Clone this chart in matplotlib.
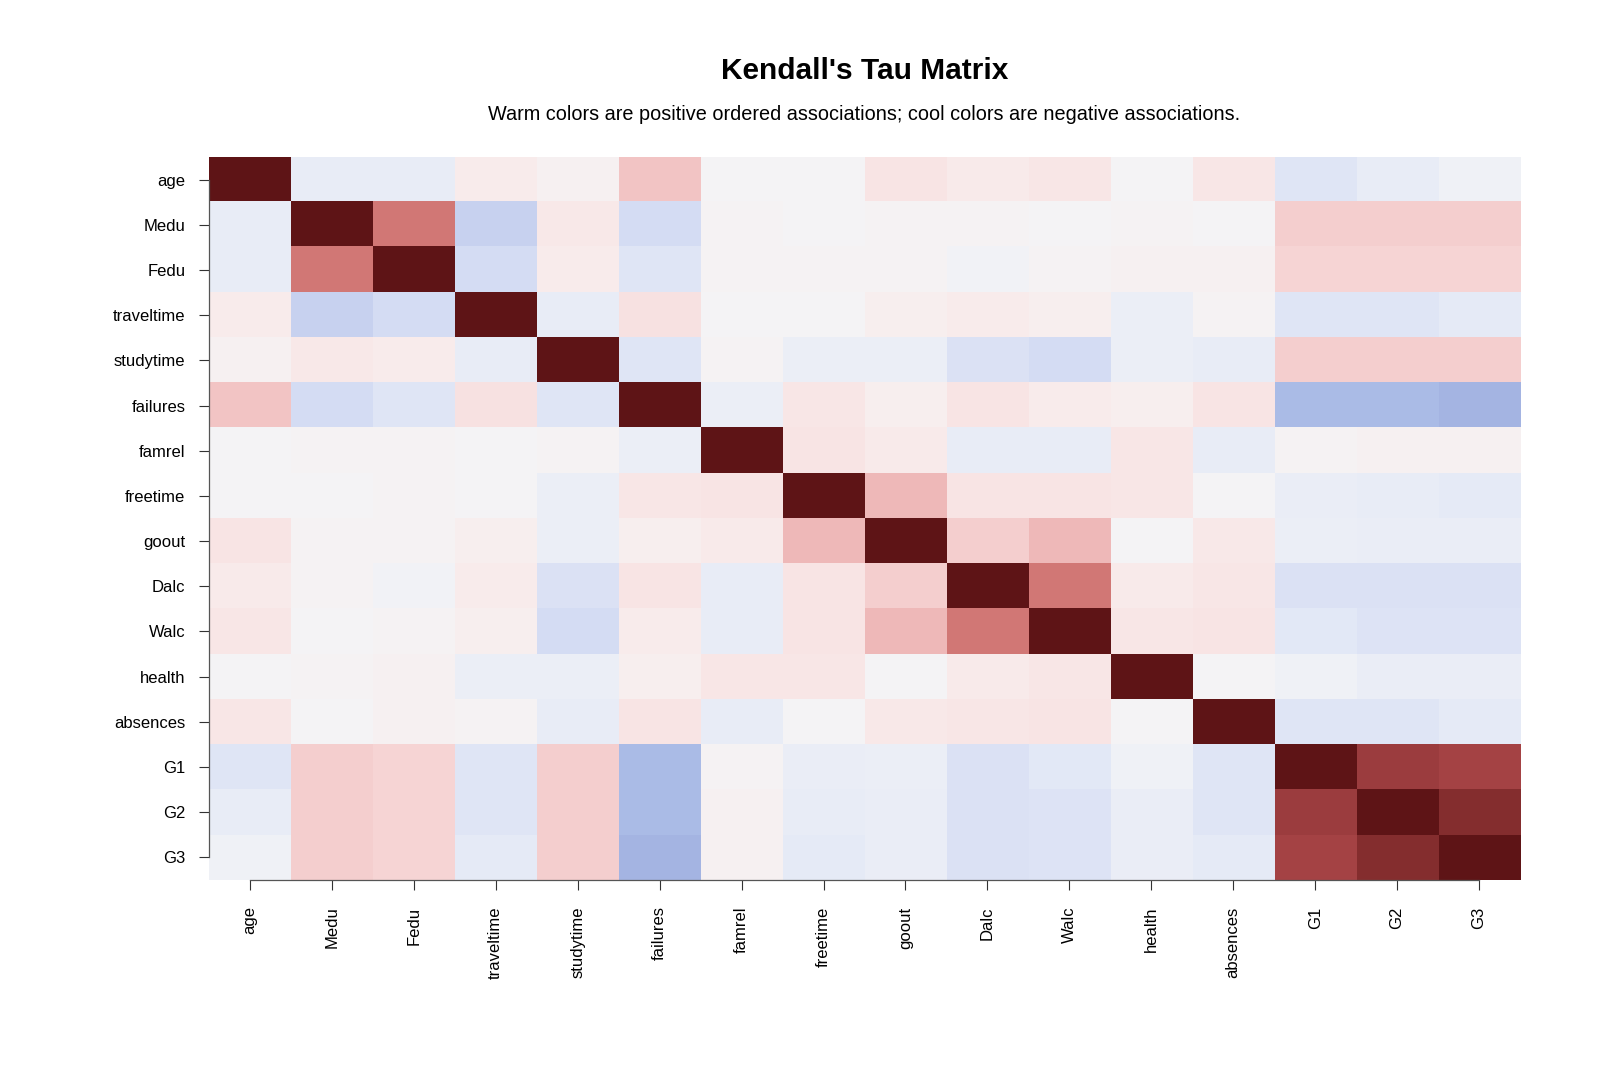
import numpy as np
import matplotlib
matplotlib.use('Agg')
import matplotlib.pyplot as plt
from matplotlib.colors import LinearSegmentedColormap

plt.rcParams['font.family'] = ['Liberation Sans', 'DejaVu Sans']

variables = ['age', 'Medu', 'Fedu', 'traveltime', 'studytime', 'failures', 'famrel',
             'freetime', 'goout', 'Dalc', 'Walc', 'health', 'absences', 'G1', 'G2', 'G3']

# Kendall's tau (rows top to bottom, columns left to right)
tau = [
    [1.00, -0.06, -0.06, 0.04, 0.02, 0.22, 0.00, 0.00, 0.08, 0.05, 0.07, 0.00, 0.07, -0.09, -0.06, -0.02],
    [-0.06, 1.00, 0.55, -0.18, 0.06, -0.14, 0.01, 0.00, 0.01, 0.01, 0.00, 0.01, 0.00, 0.18, 0.18, 0.18],
    [-0.06, 0.55, 1.00, -0.14, 0.04, -0.09, 0.01, 0.01, 0.01, -0.01, 0.01, 0.02, 0.02, 0.16, 0.16, 0.16],
    [0.04, -0.18, -0.14, 1.00, -0.06, 0.09, 0.00, 0.00, 0.03, 0.04, 0.03, -0.04, 0.01, -0.09, -0.09, -0.07],
    [0.02, 0.06, 0.04, -0.06, 1.00, -0.09, 0.01, -0.04, -0.04, -0.11, -0.14, -0.04, -0.06, 0.18, 0.18, 0.18],
    [0.22, -0.14, -0.09, 0.09, -0.09, 1.00, -0.04, 0.07, 0.03, 0.08, 0.04, 0.03, 0.08, -0.31, -0.31, -0.34],
    [0.00, 0.01, 0.01, 0.00, 0.01, -0.04, 1.00, 0.08, 0.05, -0.06, -0.06, 0.07, -0.06, 0.01, 0.02, 0.02],
    [0.00, 0.00, 0.01, 0.00, -0.04, 0.07, 0.08, 1.00, 0.28, 0.08, 0.08, 0.07, 0.00, -0.05, -0.06, -0.07],
    [0.08, 0.01, 0.01, 0.03, -0.04, 0.03, 0.05, 0.28, 1.00, 0.18, 0.28, 0.00, 0.06, -0.04, -0.05, -0.05],
    [0.05, 0.01, -0.01, 0.04, -0.11, 0.08, -0.06, 0.08, 0.18, 1.00, 0.55, 0.05, 0.07, -0.11, -0.11, -0.11],
    [0.07, 0.00, 0.01, 0.03, -0.14, 0.04, -0.06, 0.08, 0.28, 0.55, 1.00, 0.07, 0.08, -0.08, -0.10, -0.10],
    [0.00, 0.01, 0.02, -0.04, -0.04, 0.03, 0.07, 0.07, 0.00, 0.05, 0.07, 1.00, 0.00, -0.02, -0.05, -0.05],
    [0.07, 0.00, 0.02, 0.01, -0.06, 0.08, -0.06, 0.00, 0.06, 0.07, 0.08, 0.00, 1.00, -0.09, -0.09, -0.07],
    [-0.09, 0.18, 0.16, -0.09, 0.18, -0.31, 0.01, -0.05, -0.04, -0.11, -0.08, -0.02, -0.09, 1.00, 0.76, 0.72],
    [-0.06, 0.18, 0.16, -0.09, 0.18, -0.31, 0.02, -0.06, -0.05, -0.11, -0.10, -0.05, -0.09, 0.76, 1.00, 0.86],
    [-0.02, 0.18, 0.16, -0.07, 0.18, -0.34, 0.02, -0.07, -0.05, -0.11, -0.10, -0.05, -0.07, 0.72, 0.86, 1.00],
]

# diverging palette: cool for negative, warm for positive
anchors = [
    (-1.00, (20, 62, 174)), (-0.34, (165, 181, 227)), (-0.31, (170, 187, 230)),
    (-0.18, (200, 210, 240)), (-0.14, (212, 220, 243)), (-0.11, (220, 226, 245)),
    (-0.09, (224, 230, 246)), (-0.06, (232, 236, 246)), (-0.04, (236, 239, 247)),
    (-0.02, (240, 242, 246)), (0.00, (244, 244, 246)), (0.02, (246, 241, 242)),
    (0.04, (248, 236, 236)), (0.06, (248, 232, 232)), (0.08, (248, 228, 228)),
    (0.16, (246, 212, 212)), (0.18, (245, 207, 207)), (0.22, (242, 196, 196)),
    (0.28, (239, 185, 185)), (0.55, (210, 120, 118)), (0.72, (165, 67, 69)),
    (0.76, (156, 61, 63)), (0.86, (133, 46, 47)), (1.00, (94, 20, 22)),
]
cmap = LinearSegmentedColormap.from_list(
    'tau', [((v + 1) / 2, tuple(c / 255 for c in rgb)) for v, rgb in anchors], N=1024)

fig = plt.figure(figsize=(16, 10.91), dpi=100)
ax = fig.add_axes([0.1306, 0.1934, 0.8194, 0.6627])

n = len(variables)
ax.imshow(np.array(tau), cmap=cmap, vmin=-1, vmax=1, aspect='auto',
          interpolation='nearest', extent=(-0.5, n - 0.5, n - 0.5, -0.5))

ax.set_xlim(-0.5, n - 0.5)
ax.set_ylim(n - 0.5, -0.5)
ax.set_xticks(range(n))
ax.set_xticklabels(variables, rotation=90, fontsize=12)
ax.set_yticks(range(n))
ax.set_yticklabels(variables, fontsize=12)
ax.tick_params(axis='both', direction='out', length=7, width=0.8, color='#333333')
ax.tick_params(axis='x', pad=12)
ax.tick_params(axis='y', pad=10)

for side in ['top', 'right']:
    ax.spines[side].set_visible(False)
ax.spines['left'].set_bounds(0, n - 1)
ax.spines['bottom'].set_bounds(0, n - 1)
for side in ['left', 'bottom']:
    ax.spines[side].set_color('#555555')
    ax.spines[side].set_linewidth(0.9)

fig.text(0.5403, 1 - 71 / 1091, "Kendall's Tau Matrix", ha='center', va='center',
         fontsize=21.5, fontweight='bold')
fig.text(0.5403, 1 - 115 / 1091,
         'Warm colors are positive ordered associations; cool colors are negative associations.',
         ha='center', va='center', fontsize=14.3)

fig.savefig('out.png', dpi=100, facecolor='white')
